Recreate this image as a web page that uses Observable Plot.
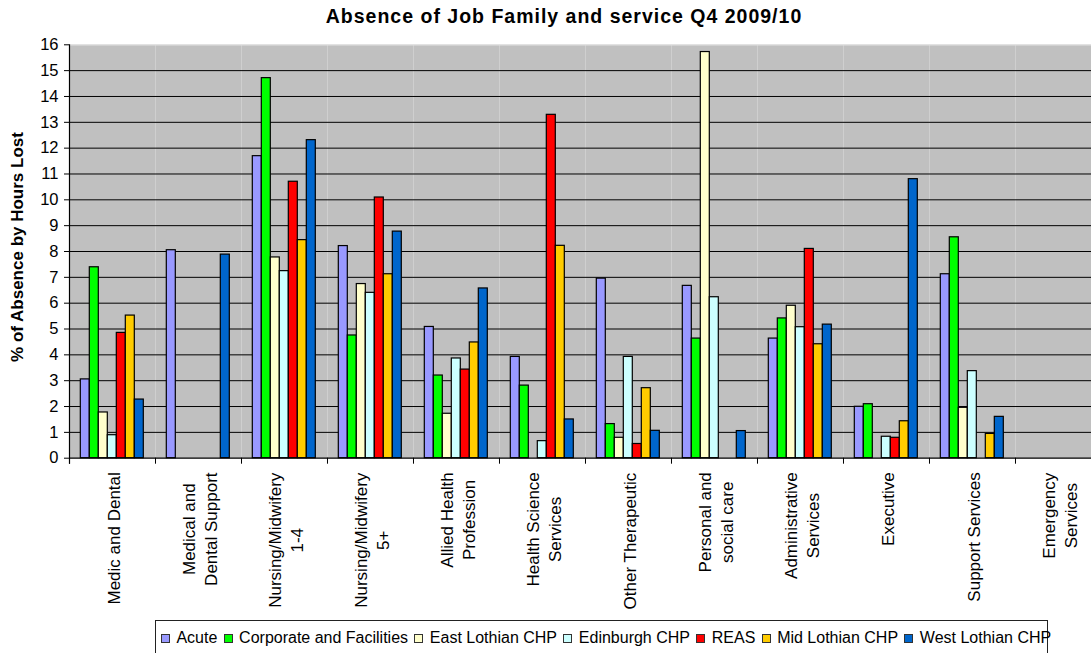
<!DOCTYPE html>
<html>
<head>
<meta charset="utf-8">
<script src="https://cdn.jsdelivr.net/npm/d3@7"></script>
<script src="https://cdn.jsdelivr.net/npm/@observablehq/plot@0.6"></script>
<style>
  html, body { margin: 0; padding: 0; background: #fff; }
  #wrap { position: relative; width: 1091px; height: 653px; overflow: hidden; font-family: Arial, "Liberation Sans", sans-serif; color: #000; }
  #chart { position: absolute; left: 0; top: 0; }
  #title { position: absolute; left: 564px; top: 6.5px; transform: translateX(-50%); white-space: nowrap;
           font-weight: bold; font-size: 19.5px; line-height: 19.5px; letter-spacing: 1px; }
  #ylabel { position: absolute; left: 17px; top: 247px; transform: translate(-50%, -50%) rotate(-90deg);
            white-space: nowrap; font-weight: bold; font-size: 17px; line-height: 17px; }
  #legend { position: absolute; left: 155px; top: 620px; width: 893px; height: 50px; border: 1px solid #222;
            box-sizing: border-box; display: flex; align-items: flex-start; padding: 8px 0 0 5px; font-size: 16px; line-height: 18px; }
  .item { display: flex; align-items: center; margin-right: 6.4px; white-space: nowrap; flex-shrink: 0; }
  .sw { width: 7px; height: 7px; border: 1px solid #333; margin-right: 6.4px; flex-shrink: 0; }
</style>
</head>
<body>
<div id="wrap">
  <div id="chart"></div>
  <div id="title"></div>
  <div id="ylabel"></div>
  <div id="legend"></div>
</div>
<script>
// ---- data ----
const title = "Absence of Job Family and service Q4 2009/10";
const yLabel = "% of Absence by Hours Lost";
const categories = [
  "Medic and Dental",
  "Medical and\nDental Support",
  "Nursing/Midwifery\n1-4",
  "Nursing/Midwifery\n5+",
  "Allied Health\nProfession",
  "Health Science\nServices",
  "Other Therapeutic",
  "Personal and\nsocial care",
  "Administrative\nServices",
  "Executive",
  "Support Services",
  "Emergency\nServices"
];
const series = ["Acute", "Corporate and Facilities", "East Lothian CHP", "Edinburgh CHP", "REAS", "Mid Lothian CHP", "West Lothian CHP"];
const colors = ["#9999FF", "#00FF00", "#FFFFCC", "#CCFFFF", "#FF0000", "#FFCC00", "#0066CC"];

const acute       = [3.05, 8.05, 11.69, 8.21, 5.08, 3.92, 6.95, 6.67, 4.63, 1.99, 7.12, null];
const corporate   = [7.39, null, 14.71, 4.75, 3.20, 2.81, 1.32, 4.63, 5.41, 2.09, 8.55, null];
const eastLothian = [1.77, null, 7.77, 6.74, 1.72, null, 0.79, 15.72, 5.90, null, 1.95, null];
const edinburgh   = [0.89, null, 7.24, 6.40, 3.86, 0.66, 3.92, 6.23, 5.07, 0.83, 3.37, null];
const reas        = [4.85, null, 10.70, 10.09, 3.43, 13.29, 0.55, null, 8.10, 0.79, null, null];
const midLothian  = [5.52, null, 8.44, 7.12, 4.48, 8.22, 2.71, null, 4.41, 1.43, 0.94, null];
const westLothian = [2.27, 7.88, 12.31, 8.77, 6.57, 1.50, 1.06, 1.05, 5.17, 10.80, 1.60, null];
const yTicks = d3.range(0, 17);

// ---- table built from the arrays ----
const seriesValues = [acute, corporate, eastLothian, edinburgh, reas, midLothian, westLothian];
const rows = [];
categories.forEach((cat, i) => series.forEach((s, j) => rows.push({cat, series: s, value: seriesValues[j][i]})));

// ---- layout ----
const W = 1091, H = 653;
const plotLeft = 67.7, plotTop = 44.3, plotBottom = 457.7, catWidth = 86.2;

const plot = Plot.plot({
  width: W, height: H,
  marginTop: plotTop, marginBottom: H - plotBottom, marginLeft: plotLeft, marginRight: 0,
  style: {fontFamily: "Arial, 'Liberation Sans', sans-serif", fontSize: "16.5px", background: "transparent", overflow: "hidden"},
  fx: {domain: categories, range: [plotLeft, plotLeft + categories.length * catWidth], paddingInner: 0, paddingOuter: 0, axis: null, label: null},
  x: {domain: series, paddingInner: 0, paddingOuter: 0.8125, axis: null, label: null},
  y: {domain: [0, 16], label: null},
  color: {domain: series, range: colors},
  marks: [
    Plot.frame({fill: "#c0c0c0", stroke: "none"}),
    Plot.ruleY(d3.range(1, 16), {stroke: "#000", strokeWidth: 1}),
    Plot.ruleY([16], {stroke: "#e2e2e2", strokeWidth: 1.5}),
    Plot.barY(rows, {fx: "cat", x: "series", y: "value", fill: "series", stroke: "#000", strokeWidth: 1.2}),
    Plot.ruleY([0], {stroke: "#000", strokeWidth: 1.2}),
    Plot.frame({anchor: "left", insetTop: plotBottom - plotTop, insetBottom: -5, stroke: "#000"}),
    Plot.frame({anchor: "left", facetAnchor: "left", insetBottom: -5, stroke: "#000", strokeWidth: 1.2}),
    Plot.axisY({ticks: yTicks, tickSize: 5, tickPadding: 6, label: null, tickFormat: d => String(d)}),
    Plot.text(categories, {fx: d => d, text: d => d, frameAnchor: "bottom", rotate: -90,
      textAnchor: "middle", lineAnchor: "middle", lineHeight: 1.3, dy: 14, fontSize: 17, fill: "#000"})
  ]
});
document.getElementById("chart").append(plot);

// top-align each rotated label block while keeping its lines centred on each other
plot.querySelectorAll("text").forEach(t => {
  const tr = t.getAttribute("transform") || "";
  if (!/rotate\(-90/.test(tr)) return;
  const b = t.getBBox();
  t.setAttribute("transform", tr + ` translate(${-(b.x + b.width)},0)`);
});

document.getElementById("title").textContent = title;
document.getElementById("ylabel").textContent = yLabel;
const legend = document.getElementById("legend");
series.forEach((s, j) => {
  const item = document.createElement("div");
  item.className = "item";
  const sw = document.createElement("span");
  sw.className = "sw";
  sw.style.background = colors[j];
  const tx = document.createElement("span");
  tx.textContent = s;
  item.append(sw, tx);
  legend.append(item);
});
</script>
</body>
</html>
